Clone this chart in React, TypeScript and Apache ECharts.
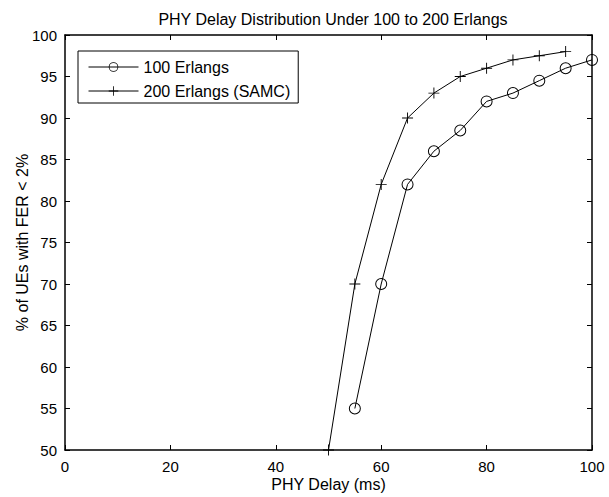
import React, { useEffect, useRef } from "react";
import * as echarts from "echarts";

const delays100 = [55, 60, 65, 70, 75, 80, 85, 90, 95, 100];
const values100 = [55, 70, 82, 86, 88.5, 92, 93, 94.5, 96, 97];
const delays200 = [50, 55, 60, 65, 70, 75, 80, 85, 90, 95];
const values200 = [50, 70, 82, 90, 93, 95, 96, 97, 97.5, 98];
const seriesNames = ["100 Erlangs", "200 Erlangs (SAMC)"];
const titleText = "PHY Delay Distribution Under 100 to 200 Erlangs";
const xName = "PHY Delay (ms)";
const yName = "% of UEs with FER < 2%";

const FONT = "'Liberation Sans', Arial, Helvetica, sans-serif";
const PLUS = "path://M5.5,0H6.5V5.5H12V6.5H6.5V12H5.5V6.5H0V5.5H5.5Z";
const RING =
  "path://M6,0A6,6 0 1 1 6,12A6,6 0 1 1 6,0ZM6,1A5,5 0 1 0 6,11A5,5 0 1 0 6,1Z";

export default function App() {
  const ref = useRef<HTMLDivElement>(null);
  useEffect(() => {
    if (!ref.current) return;
    const chart = echarts.init(ref.current, undefined, { renderer: "svg" });
    const axisLine = { show: true, onZero: false, lineStyle: { color: "#000", width: 1.5 } };
    const tick = { show: true, inside: true, length: 5, lineStyle: { color: "#000", width: 1 } };
    chart.setOption({
      animation: false,
      backgroundColor: "#fff",
      title: {
        text: titleText,
        left: 328,
        textAlign: "center",
        top: 6,
        textStyle: { fontFamily: FONT, fontSize: 16, fontWeight: "normal", color: "#000" },
      },
      grid: { left: 65, right: 17, top: 35, bottom: 45 },
      legend: {
        left: 78,
        top: 51,
        orient: "vertical",
        data: seriesNames,
        itemWidth: 50,
        itemHeight: 12,
        itemGap: 8,
        padding: [8, 8, 4, 10],
        borderColor: "#000",
        borderWidth: 1,
        backgroundColor: "#fff",
        lineStyle: { width: 1 },
        textStyle: { fontFamily: FONT, fontSize: 16, color: "#000", lineHeight: 16 },
      },
      xAxis: [
        {
          type: "value",
          min: 0,
          max: 100,
          interval: 20,
          name: xName,
          nameLocation: "middle",
          nameGap: 26,
          nameMoveOverlap: false,
          nameTextStyle: { fontFamily: FONT, fontSize: 16, color: "#000" },
          axisLine,
          axisTick: tick,
          axisLabel: { fontFamily: FONT, fontSize: 15, color: "#000", margin: 9 },
          splitLine: { show: false },
        },
        {
          type: "value",
          position: "top",
          min: 0,
          max: 100,
          interval: 20,
          axisLine,
          axisTick: tick,
          axisLabel: { show: false },
          splitLine: { show: false },
        },
      ],
      yAxis: [
        {
          type: "value",
          min: 50,
          max: 100,
          interval: 5,
          name: yName,
          nameLocation: "middle",
          nameGap: 35,
          nameMoveOverlap: false,
          nameTextStyle: { fontFamily: FONT, fontSize: 16, color: "#000" },
          axisLine,
          axisTick: tick,
          axisLabel: { fontFamily: FONT, fontSize: 15, color: "#000", margin: 8 },
          splitLine: { show: false },
        },
        {
          type: "value",
          position: "right",
          min: 50,
          max: 100,
          interval: 5,
          axisLine,
          axisTick: tick,
          axisLabel: { show: false },
          splitLine: { show: false },
        },
      ],
      series: [
        {
          name: seriesNames[0],
          type: "line",
          data: delays100.map((d, i) => [d, values100[i]]),
          symbol: RING,
          symbolSize: 12,
          showAllSymbol: true,
          lineStyle: { color: "#000", width: 1 },
          itemStyle: { color: "#000", borderWidth: 0 },
          emphasis: { disabled: true },
        },
        {
          name: seriesNames[1],
          type: "line",
          data: delays200.map((d, i) => [d, values200[i]]),
          symbol: PLUS,
          symbolSize: 11,
          showAllSymbol: true,
          lineStyle: { color: "#000", width: 1 },
          itemStyle: { color: "#000", borderWidth: 0 },
          emphasis: { disabled: true },
        },
      ],
    });
    return () => chart.dispose();
  }, []);
  return <div ref={ref} style={{ width: 609, height: 497, position: "absolute", left: 0, top: 0 }} />;
}
